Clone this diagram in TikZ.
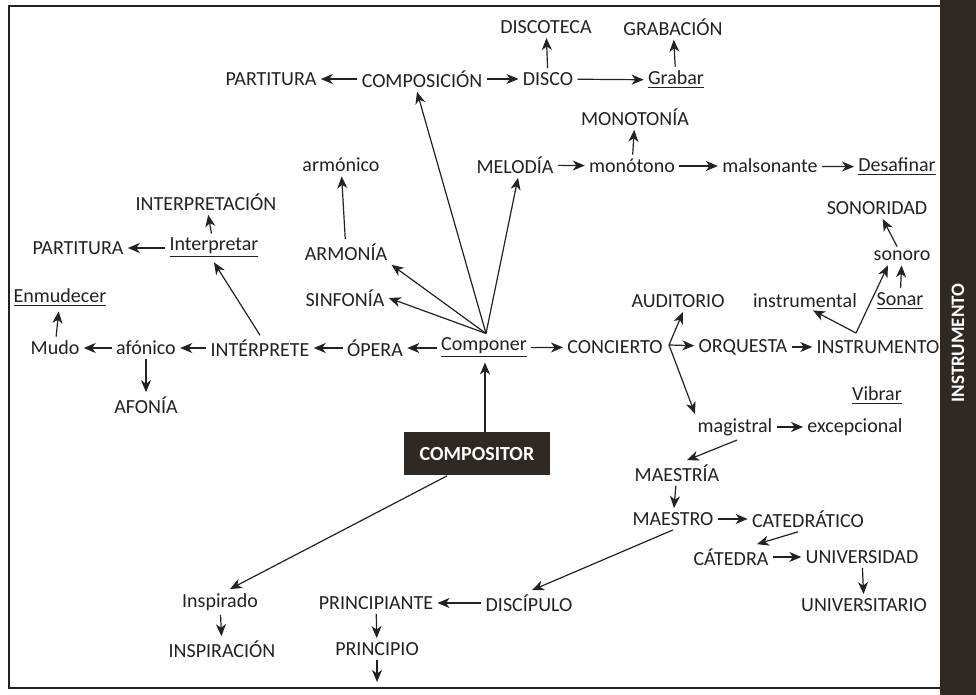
\documentclass[tikz,border=0pt]{standalone}
\usepackage{fontspec}
\setmainfont{Carlito}
\usetikzlibrary{arrows.meta}
\definecolor{ink}{HTML}{222222}
\definecolor{strip}{HTML}{2E2925}
\tikzset{
  w/.style={inner sep=2pt, text=ink, font=\fontsize{10}{12}\selectfont},
  arr/.style={draw=ink, line width=0.6pt, -{Stealth[length=6pt,width=5pt,inset=1.8pt]}},
  arrb/.style={draw=ink, line width=0.6pt, {Stealth[length=6pt,width=5pt,inset=1.8pt]}-{Stealth[length=6pt,width=5pt,inset=1.8pt]}},
  darkbox/.style={fill=strip, text=white, font=\bfseries\fontsize{10}{12}\selectfont, minimum width=73pt, minimum height=21.5pt, inner sep=2pt},
}
\newcommand{\ul}[1]{\underline{#1}}
\begin{document}
\begin{tikzpicture}[x=0.5pt,y=-0.5pt]
\useasboundingbox (0,0) rectangle (976,695);
\fill[white] (0,0) rectangle (976,695);
% frame
\draw[ink, line width=0.8pt] (940,6) -- (9,6) -- (9,688) -- (940,688);
\fill[strip] (940,0) rectangle (976,695);
\node[rotate=90, text=white, font=\bfseries\fontsize{9.5}{10}\selectfont, inner sep=0pt] (strip) at (958,343) {INSTRUMENTO};

% nodes
\node[w] (discoteca) at (546,27) {DISCOTECA};
\node[w] (grabacion) at (673,27) {GRABACIÓN};
\node[w] (partT) at (271,79) {PARTITURA};
\node[w] (composicion) at (422,79) {COMPOSICIÓN};
\node[w] (disco) at (548,79) {DISCO};
\node[w] (grabar) at (676,80) {\ul{Grabar}};
\node[w] (monotonia) at (635,117) {MONOTONÍA};
\node[w] (armonico) at (341,165) {armónico};
\node[w] (melodia) at (515,165) {MELODÍA};
\node[w] (monotono) at (632,166) {monótono};
\node[w] (malsonante) at (770,166) {malsonante};
\node[w] (desafinar) at (897,167) {\ul{Desafinar}};
\node[w] (interpretacion) at (206,202) {INTERPRETACIÓN};
\node[w] (sonoridad) at (877,208) {SONORIDAD};
\node[w] (partL) at (78,248) {PARTITURA};
\node[w] (interpretar) at (214,248) {\ul{Interpretar}};
\node[w] (armonia) at (346,252) {ARMONÍA};
\node[w] (sonoro) at (902,256) {sonoro};
\node[w] (sinfonia) at (345,298) {SINFONÍA};
\node[w] (auditorio) at (678,301) {AUDITORIO};
\node[w] (instrumental) at (805,301) {instrumental};
\node[w] (sonar) at (900,301) {\ul{Sonar}};
\node[w] (enmudecer) at (60,298) {\ul{Enmudecer}};
\node[w] (mudo) at (55,348) {Mudo};
\node[w] (afonico) at (146,348) {afónico};
\node[w] (interprete) at (260,348) {INTÉRPRETE};
\node[w] (opera) at (375,348) {ÓPERA};
\node[w] (componer) at (484,348) {\ul{Componer}};
\node[w] (concierto) at (615,347) {CONCIERTO};
\node[w] (orquesta) at (743,347) {ORQUESTA};
\node[w] (instrumento) at (878,347) {INSTRUMENTO};
\node[w] (afonia) at (146,405) {AFONÍA};
\node[w] (vibrar) at (877,396) {\ul{Vibrar}};
\node[w] (magistral) at (735,427) {magistral};
\node[w] (excepcional) at (855,427) {excepcional};
\node[darkbox] (compositor) at (477,454) {COMPOSITOR};
\node[w] (maestria) at (677,473) {MAESTRÍA};
\node[w] (maestro) at (673,519) {MAESTRO};
\node[w] (catedratico) at (808,519) {CATEDRÁTICO};
\node[w] (catedra) at (731,557) {CÁTEDRA};
\node[w] (universidad) at (862,557) {UNIVERSIDAD};
\node[w] (universitario) at (864,605) {UNIVERSITARIO};
\node[w] (inspirado) at (220,602) {Inspirado};
\node[w] (inspiracion) at (222,649) {INSPIRACIÓN};
\node[w] (principiante) at (376,603) {PRINCIPIANTE};
\node[w] (discipulo) at (529,603) {DISCÍPULO};
\node[w] (principio) at (377,649) {PRINCIPIO};
\coordinate (pend) at (377,682);
\coordinate (cb) at (669,345);
\coordinate (ib) at (856,333);

% connectors
\draw[arr] (composicion) -- (partT);
\draw[arr] (composicion) -- (disco);
\draw[arr] (disco) -- (discoteca);
\draw[arr] (disco) -- (grabar);
\draw[arr] (grabar) -- (grabacion);
\draw[arr] ([xshift=1pt]componer.north) -- ([xshift=-2.5pt]composicion.south);
\draw[arr] ([xshift=1pt]componer.north) -- ([xshift=1.5pt]melodia.south);
\draw[arr] ([xshift=1pt]componer.north) -- (armonia.south east);
\draw[arr] ([xshift=1pt]componer.north) -- (sinfonia.east);
\draw[arr] (componer) -- (opera);
\draw[arr] (componer) -- (concierto);
\draw[arr] (armonia) -- (armonico);
\draw[arr] (melodia) -- (monotono);
\draw[arr] (monotono) -- (monotonia);
\draw[arr] (monotono) -- (malsonante);
\draw[arr] (malsonante) -- (desafinar);
\draw[arr] (opera) -- (interprete);
\draw[arr] (interprete) -- (afonico);
\draw[arr] (interprete.north) -- (interpretar.south);
\draw[arr] (interpretar) -- (partL);
\draw[arr] (interpretar) -- (interpretacion);
\draw[arr] (afonico) -- (mudo);
\draw[arr] (afonico) -- (afonia);
\draw[arr] (mudo) -- (enmudecer);
\draw[arr] (cb) -- (orquesta);
\draw[arrb] ([xshift=2.5pt]auditorio.south) -- (cb) -- ([xshift=-20pt]magistral.north);
\draw[arr] (orquesta) -- (instrumento);
\draw[arr] (ib) -- ([xshift=4pt,yshift=1pt]instrumental.south);
\draw[arr] (ib) -- ([xshift=-7pt]sonoro.south);
\draw[arr] (sonar) -- (sonoro);
\draw[arr] (sonoro) -- (sonoridad);
\draw[arr] ([xshift=4pt]compositor.north) -- ([xshift=0.5pt]componer.south);
\draw[arr] (magistral) -- (excepcional);
\draw[arr] ([xshift=1pt]magistral.south) -- ([xshift=5pt]maestria.north);
\draw[arr] (maestria) -- (maestro);
\draw[arr] (maestro) -- (catedratico);
\draw[arr] ([xshift=-5pt]catedratico.south) -- ([xshift=13pt]catedra.north);
\draw[arr] (catedra) -- (universidad);
\draw[arr] (universidad) -- (universitario);
\draw[arr] (maestro.south) -- ([xshift=1.5pt]discipulo.north);
\draw[arr] ([xshift=-15pt]compositor.south) -- ([xshift=5pt]inspirado.north);
\draw[arr] (inspirado) -- (inspiracion);
\draw[arr] (discipulo) -- (principiante);
\draw[arr] (principiante) -- (principio);
\draw[arr] (principio) -- (pend);
\end{tikzpicture}
\end{document}
